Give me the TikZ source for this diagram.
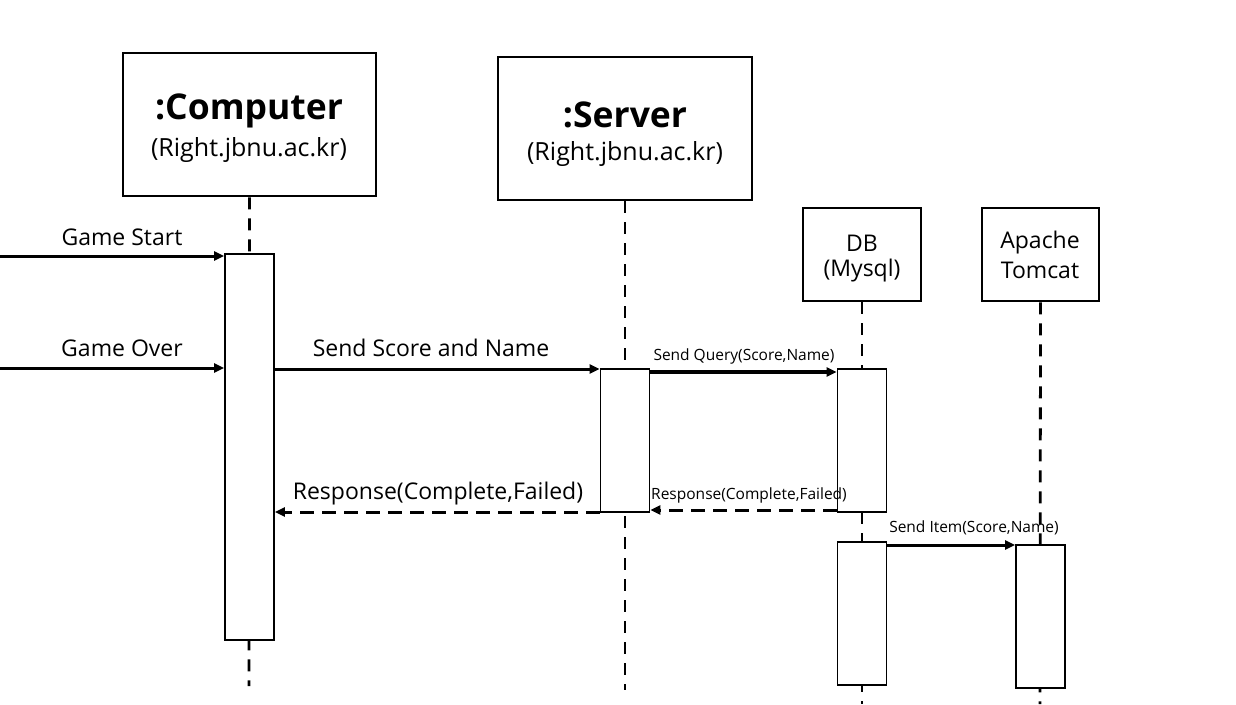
\documentclass[tikz,border=0pt]{standalone}
\usepackage{fontspec}
\setmainfont{Open Sans}
\usetikzlibrary{arrows.meta}
\begin{document}
\begin{tikzpicture}[x=1pt,y=-1pt,
  head/.style={draw, line width=2.8pt, inner sep=0pt},
  act/.style={draw, line width=1.8pt, fill=white, inner sep=0pt, minimum width=49pt},
  life/.style={line width=2.8pt, dash pattern=on 12pt off 9pt},
  msg/.style={line width=3pt, -{Triangle[length=10pt,width=9pt]}},
  ret/.style={msg, dash pattern=on 14pt off 8pt},
  ttl/.style={font=\fontsize{35.5}{40}\selectfont\bfseries, inner sep=0pt},
  sub/.style={font=\fontsize{25}{30}\selectfont, inner sep=0pt},
  big/.style={font=\fontsize{23}{27}\selectfont, inner sep=0pt},
  small/.style={font=\fontsize{15.5}{18}\selectfont, inner sep=0pt}]
\useasboundingbox (0,0) rectangle (1236,704);

% object heads
\node[head, minimum width=253pt, minimum height=143pt] (comp) at (249.5,124.5) {};
\node[head, minimum width=254pt, minimum height=143pt] (serv) at (625,128.5) {};
\node[head, minimum width=118pt, minimum height=93pt] (db) at (862,254.5) {};
\node[head, minimum width=117pt, minimum height=93pt] (tom) at (1040.5,254.5) {};

\node[ttl] at (249,111) {:Computer};
\node[sub] at (249,150) {(Right.jbnu.ac.kr)};
\node[ttl] at (625,115) {:Server};
\node[sub] at (625,154) {(Right.jbnu.ac.kr)};
\node[big] at (862,243) {DB};
\node[big] at (862,271) {(Mysql)};
\node[big] at (1040,243) {Apache};
\node[big] at (1040,270) {Tomcat};

% lifelines
\coordinate (compEnd) at (249,686);
\coordinate (servEnd) at (625,690);
\coordinate (dbEnd) at (862,704);
\coordinate (tomEnd) at (1040,704);
\draw[life] (comp.south) -- (compEnd);
\draw[life] (serv.south) -- (servEnd);
\draw[life] (db.south) -- (dbEnd);
\draw[life] (tom.south) -- (tomEnd);

% activations
\node[act, minimum height=386pt] (aComp) at (249.5,447) {};
\node[act, minimum height=143pt] (aServ) at (625,440.5) {};
\node[act, minimum height=143pt] (aDb1) at (862,440.5) {};
\node[act, minimum height=143pt] (aDb2) at (862,613.5) {};
\node[act, minimum height=143pt] (aTom) at (1040.5,616.5) {};

% messages
\coordinate (gsFrom) at (0,256);
\coordinate (goFrom) at (0,368);
\draw[msg] (gsFrom) -- (gsFrom -| aComp.west);
\node[big] at (122,237) {Game Start};
\draw[msg] (goFrom) -- (goFrom -| aComp.west);
\node[big] at (122,348) {Game Over};

\draw[msg] (aComp.east |- 0,369) -- (aServ.west |- 0,369);
\node[big] at (431,348) {Send Score and Name};

\draw[msg, line width=3.5pt] (aServ.east |- 0,372) -- (aDb1.west |- 0,372);
\node[small] at (744,356) {Send Query(Score,Name)};

\draw[ret] (aDb1.west |- 0,510) -- (aServ.east |- 0,510);
\node[small] at (749,495) {Response(Complete,Failed)};

\draw[ret] (aServ.west |- 0,512) -- (aComp.east |- 0,512);
\node[big] at (438,494) {Response(Complete,Failed)};

\draw[msg] (aDb2.east |- 0,545) -- (aTom.west |- 0,545);
\node[small] at (974,528) {Send Item(Score,Name)};
\end{tikzpicture}
\end{document}
